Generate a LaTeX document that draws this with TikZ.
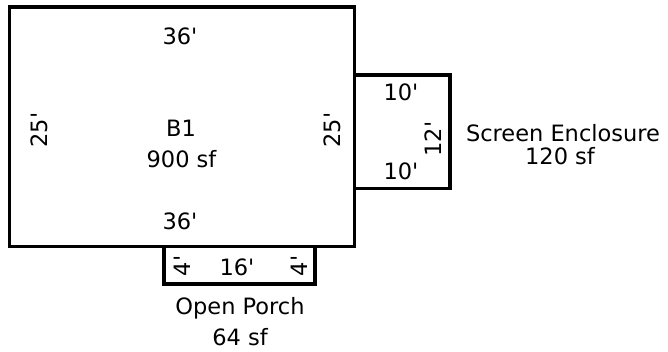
\documentclass[tikz,border=0pt]{standalone}
\usepackage{fontspec}
\setmainfont{DejaVu Sans}
\usepackage{tikz}
\newcommand{\plfont}{\fontsize{22.5}{27}\selectfont}
\newcommand{\ft}{\textquotesingle}
\tikzset{wall/.style={line width=3.5pt},
	lbl/.style={font=\plfont,anchor=base,inner sep=0pt},
	vlbl/.style={lbl,rotate=90}}

\begin{document}
\begin{tikzpicture}[x=1pt,y=-1pt]
	\useasboundingbox (0,0) rectangle (668,352);
	% house, screen enclosure, porch
	\draw[wall] (9.5,7.2) rectangle (354.7,246.7);
	\draw[wall] (354.7,75) -- (450,75) -- (450,188.7) -- (354.7,188.7);
	\draw[wall] (164,246.7) -- (164,284) -- (315,284) -- (315,246.7);
	% B1
	\node[lbl] (btop) at (180,45) {36\ft}; \node[lbl] (bbot) at (180,230) {36\ft};
	\node[vlbl] (bleft) at (47,130) {25\ft}; \node[vlbl] (bright) at (340,130) {25\ft};
	\node[lbl] (bname) at (181,137) {B1}; \node[lbl] (barea) at (181.5,168) {900 sf};
	% screen enclosure
	\node[lbl] (stop) at (401,100.7) {10\ft}; \node[lbl] (sbot) at (401,180) {10\ft};
	\node[vlbl] (sside) at (441.7,139) {12\ft};
	\node[lbl] (sname) at (563,141.7) {Screen Enclosure}; \node[lbl] (sarea) at (560,165) {120 sf};
	% open porch
	\node[vlbl] (pleft) at (190.5,266) {4\ft}; \node[vlbl] (pright) at (307,266) {4\ft};
	\node[lbl] (plong) at (237,275) {16\ft};
	\node[lbl] (pname) at (240,314) {Open Porch}; \node[lbl] (parea) at (240,345) {64 sf};
\end{tikzpicture}
\end{document}
